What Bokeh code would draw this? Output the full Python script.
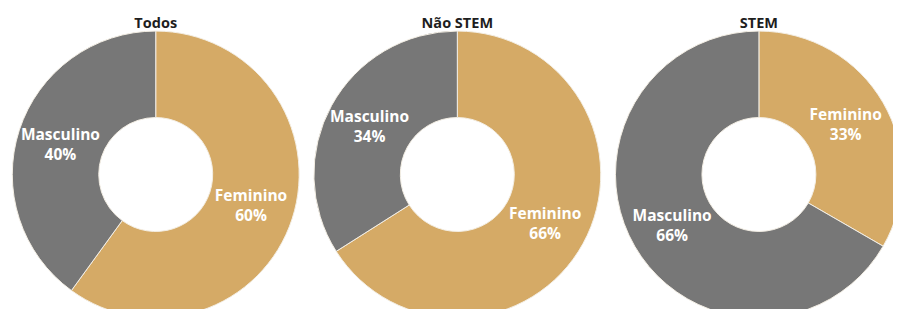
import math
from bokeh.plotting import figure
from bokeh.models import Range1d
from bokeh.core.properties import value
from bokeh.embed import file_html
from bokeh.resources import INLINE

# Data
groups = ["Todos", "Não STEM", "STEM"]
categories = ["Feminino", "Masculino"]
feminino = [60, 66, 33]
masculino = [40, 34, 66]

colors = {"Feminino": "#D5AA66", "Masculino": "#777777"}

# Layout: data coordinates follow the 909x325 reference (y measured upward)
W, H = 893, 309
REF_W, REF_H = 909, 325
centers_x = [158, 465, 772]
center_y = REF_H - 183
outer_r = 146
inner_r = 58
label_r = (outer_r + inner_r) / 2
title_y = REF_H - 23

p = figure(width=W, height=H, output_backend="svg", toolbar_location=None,
           x_range=Range1d(0, REF_W), y_range=Range1d(0, REF_H),
           min_border=0, outline_line_color=None)
p.axis.visible = False
p.grid.visible = False
p.background_fill_color = "white"

font = value("Open Sans")
ky = H / REF_H  # vertical data->pixel factor, used to keep label geometry round
kx = W / REF_W

for gi, g in enumerate(groups):
    cx = centers_x[gi]
    vals = {"Feminino": feminino[gi], "Masculino": masculino[gi]}
    total = sum(vals.values())
    f_frac = vals["Feminino"] / total
    top = math.pi / 2
    f_end = top - 2 * math.pi * f_frac
    # Feminino: clockwise from the top
    p.annular_wedge(x=[cx], y=[center_y], inner_radius=inner_r, outer_radius=outer_r,
                    start_angle=f_end, end_angle=top, direction="anticlock",
                    fill_color=colors["Feminino"], line_color="#F3EEE4", line_width=1)
    # Masculino: the rest
    p.annular_wedge(x=[cx], y=[center_y], inner_radius=inner_r, outer_radius=outer_r,
                    start_angle=top, end_angle=f_end + 2 * math.pi, direction="anticlock",
                    fill_color=colors["Masculino"], line_color="#F3EEE4", line_width=1)
    # labels at the middle of each ring segment
    mids = {"Feminino": top - math.pi * f_frac,
            "Masculino": f_end - math.pi * (1 - f_frac)}
    for c in categories:
        a = mids[c]
        lx = cx + label_r * math.cos(a)
        ly = center_y + label_r * math.sin(a) * kx / ky
        p.text(x=[lx], y=[ly], text=[c], text_align="center", text_baseline="middle",
               y_offset=-10, text_font=font, text_font_style="bold",
               text_font_size="15.5px", text_color="white")
        p.text(x=[lx], y=[ly], text=[f"{vals[c]}%"], text_align="center",
               text_baseline="middle", y_offset=10, text_font=font,
               text_font_style="bold", text_font_size="15.5px", text_color="white")
    p.text(x=[cx], y=[title_y], text=[g], text_align="center", text_baseline="middle",
           text_font=font, text_font_style="bold", text_font_size="14.5px",
           text_color="#1E1E1E")

open("out.html", "w").write(file_html(p, INLINE))
